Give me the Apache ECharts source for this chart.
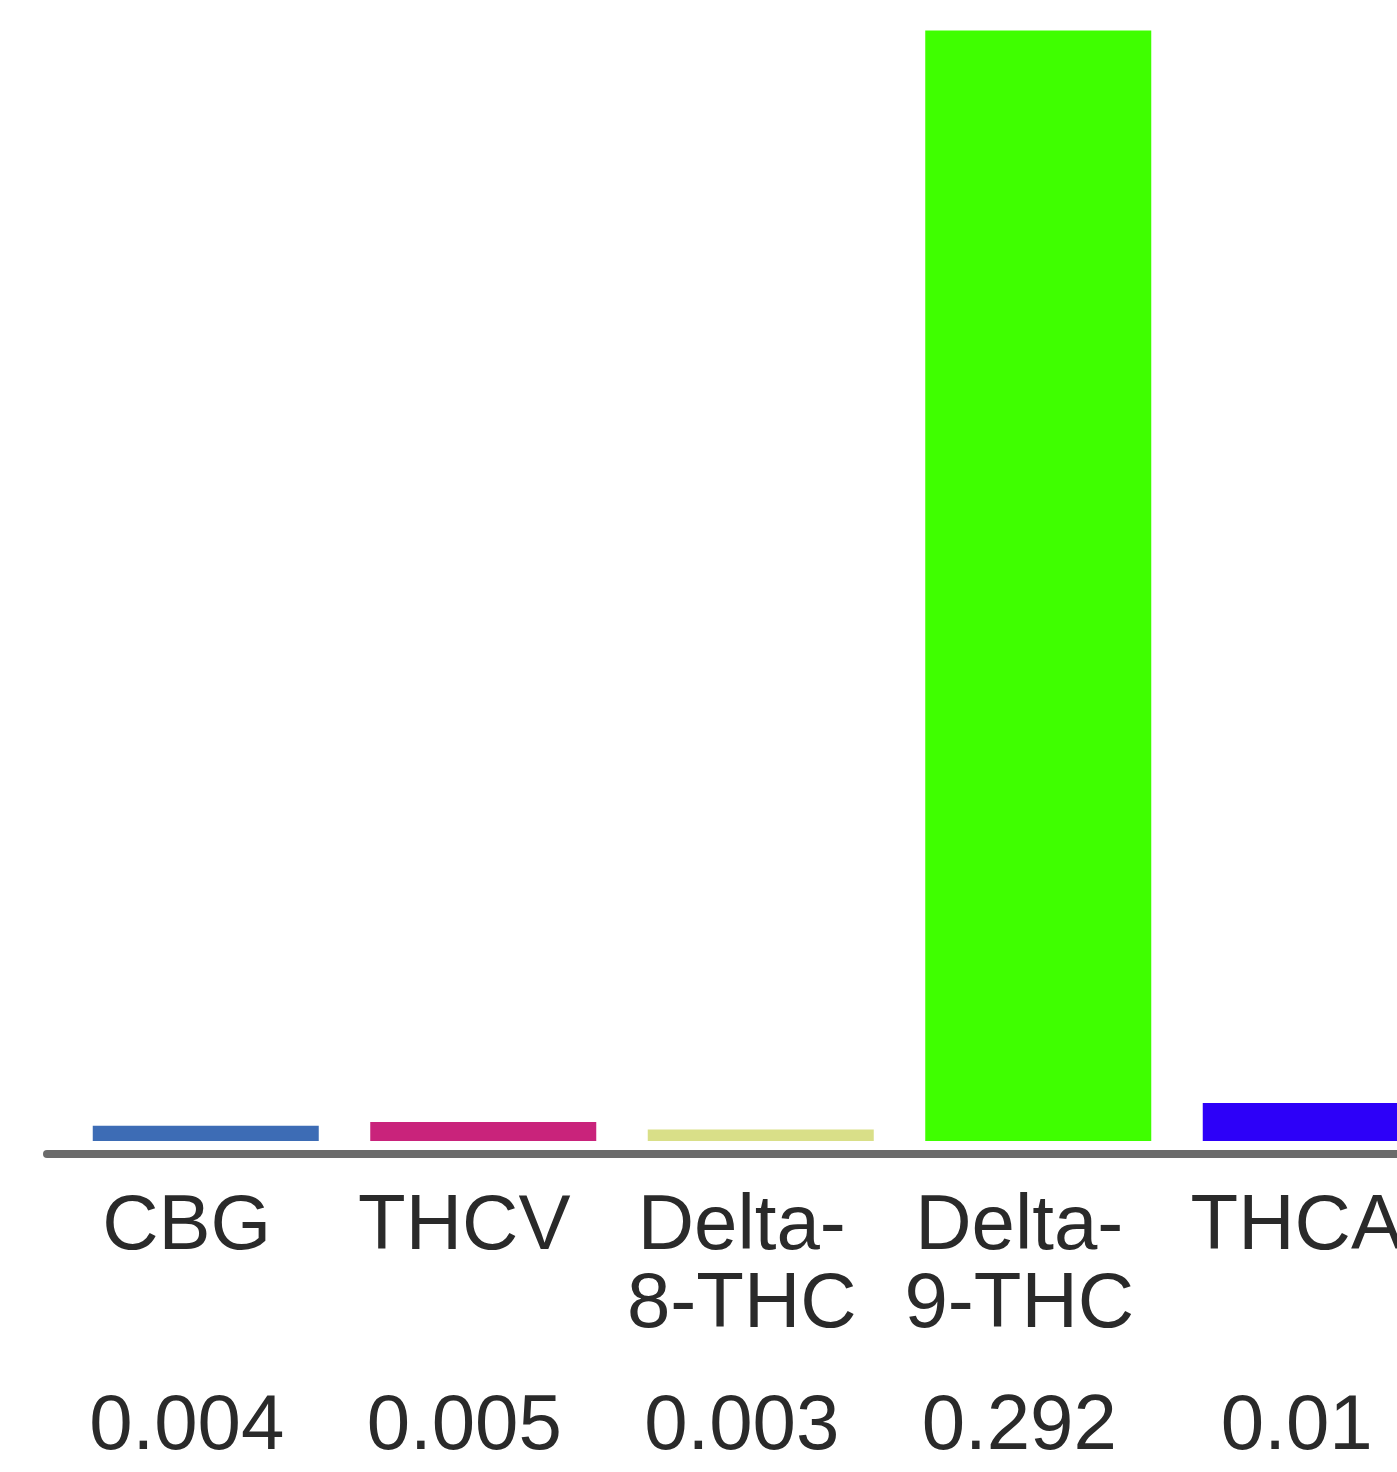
<!DOCTYPE html>
<html>
<head>
<meta charset="utf-8">
<style>
  html, body { margin: 0; padding: 0; background: #ffffff; }
  #chart { width: 1397px; height: 1472px; }
</style>
<script src="https://cdn.jsdelivr.net/npm/echarts@6/dist/echarts.min.js"></script>
</head>
<body>
<div id="chart"></div>
<script>
const categories = ['CBG', 'THCV', 'Delta-\n8-THC', 'Delta-\n9-THC', 'THCA'];
const values = [0.004, 0.005, 0.003, 0.292, 0.01];
const colors = ['#3d6cb5', '#c9237b', '#d9df88', '#3fff00', '#2d00f8'];

const chart = echarts.init(document.getElementById('chart'), null, { renderer: 'canvas' });

const FONT = '"Liberation Sans", Arial, Helvetica, sans-serif';

const option = {
  backgroundColor: '#ffffff',
  animation: false,
  grid: [
    { left: 67, top: 0, width: 1387.5, height: 1141, containLabel: false, outerBoundsMode: 'none' },
    { left: 47, top: 0, width: 1500, height: 1141, containLabel: false, outerBoundsMode: 'none' }
  ],
  xAxis: [
    {
      type: 'category',
      gridIndex: 0,
      data: categories,
      position: 'bottom',
      offset: 13,
      axisLine: { show: true, onZero: false, lineStyle: { color: '#6b6b6b', width: 8 } },
      axisTick: { show: false },
      splitLine: { show: false },
      axisLabel: {
        interval: 0,
        margin: 34,
        padding: [0, 38, 0, 0],
        formatter: function (val, idx) {
          const lines = val.split('\n');
          while (lines.length < 2) lines.push(' ');
          return lines.map(l => '{n|' + l + '}').join('\n') + '\n{v|' + String(values[idx]) + '}';
        },
        rich: {
          n: { fontFamily: FONT, fontSize: 78, lineHeight: 78, color: '#2a2a2a', align: 'center' },
          v: { fontFamily: FONT, fontSize: 78, lineHeight: 166, color: '#2a2a2a', align: 'center' }
        }
      }
    },
    {
      type: 'value',
      gridIndex: 1,
      position: 'bottom',
      offset: 13,
      min: 0,
      max: 1,
      axisLine: { show: true, onZero: false, lineStyle: { color: '#6b6b6b', width: 8 } },
      axisTick: { show: false },
      axisLabel: { show: false },
      splitLine: { show: false }
    }
  ],
  yAxis: [
    {
      type: 'value',
      gridIndex: 0,
      min: 0,
      max: 0.3,
      show: false,
      splitLine: { show: false }
    },
    {
      type: 'value',
      gridIndex: 1,
      min: 0,
      max: 1,
      show: false,
      splitLine: { show: false }
    }
  ],
  series: [
    {
      type: 'bar',
      xAxisIndex: 0,
      yAxisIndex: 0,
      barWidth: 226,
      data: values.map((v, i) => ({ value: v, itemStyle: { color: colors[i] } }))
    }
  ]
};

chart.setOption(option);
</script>
</body>
</html>
